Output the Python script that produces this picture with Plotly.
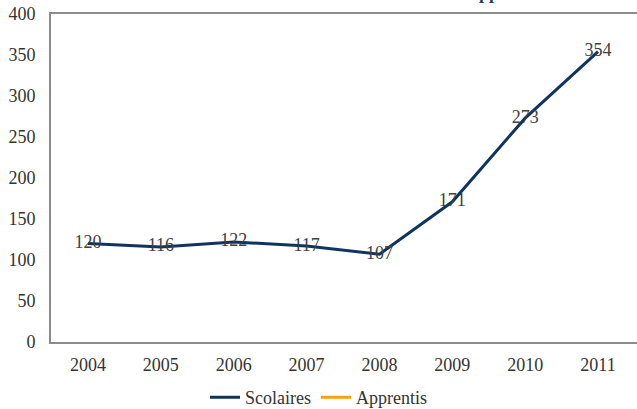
import plotly.graph_objects as go

years = ["2004", "2005", "2006", "2007", "2008", "2009", "2010", "2011"]
scolaires = [120, 116, 122, 117, 107, 171, 273, 354]
apprentis = [None] * 8
y_ticks = [0, 50, 100, 150, 200, 250, 300, 350, 400]

FONT = "Liberation Serif, Times New Roman, serif"
fig = go.Figure()
fig.add_trace(go.Scatter(
    x=years, y=scolaires, name="Scolaires", mode="lines+text",
    line=dict(color="#0f3460", width=3),
    text=[str(v) for v in scolaires], textposition="middle center",
    textfont=dict(family=FONT, size=18, color="#404040"),
))
fig.add_trace(go.Scatter(
    x=years, y=apprentis, name="Apprentis", mode="lines",
    line=dict(color="#f0a30a", width=3),
))

fig.add_annotation(
    text="<b>Apprentis</b>", xref="paper", yref="paper",
    x=(464 - 51) / (637 - 51), y=1.026, xanchor="left", yanchor="bottom",
    showarrow=False, font=dict(family=FONT, size=18, color="#1f3d6d"),
)

fig.update_layout(
    width=637, height=409,
    margin=dict(l=51, r=0, t=14, b=67, autoexpand=False),
    paper_bgcolor="white", plot_bgcolor="white",
    font=dict(family=FONT, size=18, color="#333333"),
    showlegend=True,
    legend=dict(orientation="h", xref="container", x=0.5, xanchor="center",
                yref="paper", y=-0.113, yanchor="top",
                font=dict(family=FONT, size=18, color="#333333"),
                itemwidth=30, tracegroupgap=0),
    xaxis=dict(type="category", range=[-0.508, 7.535], showgrid=False,
               showline=True, linecolor="#8c8c8c", linewidth=2, mirror=True,
               ticks="", ticklabelstandoff=5, zeroline=False),
    yaxis=dict(range=[0, 400], tickvals=y_ticks, showgrid=False,
               showline=True, linecolor="#8c8c8c", linewidth=2,
               ticks="", ticklabelstandoff=10, zeroline=False),
)

fig.write_html("out.html", config={"displayModeBar": False},
               post_script="document.body.style.margin='0';document.body.style.overflow='hidden';")
